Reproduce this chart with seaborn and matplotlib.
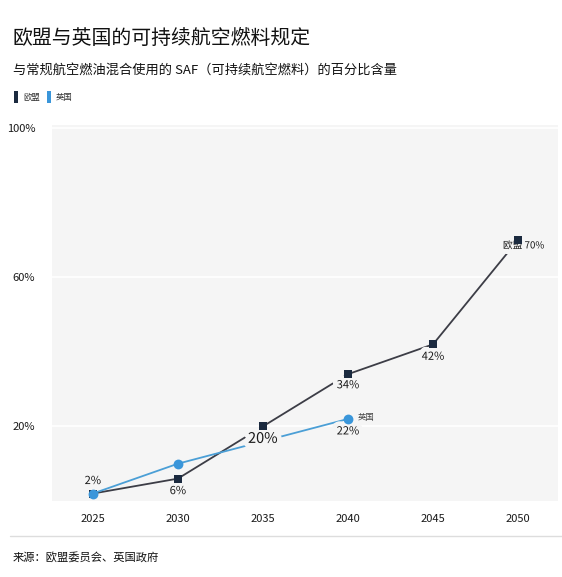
import matplotlib
matplotlib.use('Agg')
import matplotlib.pyplot as plt
import matplotlib.patheffects as pe
from matplotlib.patches import Patch
from matplotlib.lines import Line2D
import seaborn as sns
import pandas as pd

####### Data #######
eu_years = [2025, 2030, 2035, 2040, 2045, 2050]
eu_values = [2, 6, 20, 34, 42, 70]
uk_years = [2025, 2030, 2040]
uk_values = [2, 10, 22]

eu_labels = ['2%', '6%', '20%', '34%', '42%', '欧盟 70%']
uk_labels = {2040: '22%'}

title = '欧盟与英国的可持续航空燃料规定'
subtitle = '与常规航空燃油混合使用的 SAF（可持续航空燃料）的百分比含量'
source = '来源：欧盟委员会、英国政府'

x_ticks = [2025, 2030, 2035, 2040, 2045, 2050]
y_ticks = [20, 60, 100]

df = pd.concat([
    pd.DataFrame({'year': eu_years, 'value': eu_values, 'series': '欧盟'}),
    pd.DataFrame({'year': uk_years, 'value': uk_values, 'series': '英国'}),
], ignore_index=True)

####### Style #######
sns.set_theme(style='white')
plt.rcParams['font.family'] = ['Noto Sans CJK SC', 'DejaVu Sans']

BG = '#f5f5f5'
EU_MARK = '#1b2a3f'
EU_LINE = '#3c3d46'
UK_MARK = '#3a96da'
UK_LINE = '#4b9fd6'
TXT = '#1a1a1a'

fig = plt.figure(figsize=(5.62, 5.77), dpi=100)
ax = fig.add_axes([0.0925, 0.1317, 0.9005, 0.6517])
ax.set_facecolor(BG)

# lines
sns.lineplot(data=df, x='year', y='value', hue='series',
             palette={'欧盟': EU_LINE, '英国': UK_LINE},
             linewidth=1.3, legend=False, ax=ax, zorder=2)

# labels with halo (breaks the lines like the original)
halo = [pe.withStroke(linewidth=7, foreground=BG)]
offsets = [(0, 9), (0, -9), (0, -9), (0, -8), (0, -9), (4, -4)]
for i, (x, y, lab) in enumerate(zip(eu_years, eu_values, eu_labels)):
    fs = 10.5 if lab == '20%' else 8
    if lab.startswith('欧盟'):
        fs = 7
    ax.annotate(lab, (x, y), xytext=offsets[i], textcoords='offset points',
                ha='center', va='center', fontsize=fs, color=TXT,
                fontweight='medium', path_effects=halo, zorder=3)
for x, lab in uk_labels.items():
    y = uk_values[uk_years.index(x)]
    ax.annotate(lab, (x, y), xytext=(0, -9), textcoords='offset points',
                ha='center', va='center', fontsize=8, color=TXT,
                fontweight='medium', path_effects=halo, zorder=3)
ax.annotate('英国', (uk_years[-1], uk_values[-1]), xytext=(7, 1),
            textcoords='offset points', ha='left', va='center',
            fontsize=6, color='#444444', zorder=3)

# markers
sns.scatterplot(data=df[df.series == '欧盟'], x='year', y='value', marker='s',
                color=EU_MARK, s=28, linewidth=0, legend=False, ax=ax, zorder=4)
sns.scatterplot(data=df[df.series == '英国'], x='year', y='value', marker='o',
                color=UK_MARK, s=50, linewidth=0, legend=False, ax=ax, zorder=5)

####### Axes #######
ax.set_xlim(2022.6, 2052.35)
ax.set_ylim(0, 100.8)
ax.set_xticks(x_ticks)
ax.set_xticklabels([str(t) for t in x_ticks], fontsize=8, color=TXT,
                   fontweight='medium')
ax.set_yticks(y_ticks)
ax.set_yticklabels([f'{t}%' for t in y_ticks], fontsize=8, color=TXT,
                   fontweight='medium')
ax.tick_params(axis='both', length=0)
ax.tick_params(axis='x', pad=9)
ax.tick_params(axis='y', pad=12)
ax.grid(axis='y', color='white', linewidth=1.2)
ax.set_axisbelow(True)
ax.set_xlabel('')
ax.set_ylabel('')
for s in ax.spines.values():
    s.set_visible(False)

####### Texts #######
fig.text(0.023, 0.934, title, fontsize=14.3, color='#111111', va='center',
         fontweight='medium')
fig.text(0.023, 0.879, subtitle, fontsize=9.5, color='#111111', va='center',
         fontweight='medium')

handles = [Patch(facecolor=EU_MARK, edgecolor='none'),
           Patch(facecolor=UK_MARK, edgecolor='none')]
fig.legend(handles, ['欧盟', '英国'], loc='center left',
           bbox_to_anchor=(0.012, 0.832), ncol=2, frameon=False,
           fontsize=6, handlelength=0.45, handleheight=1.9,
           handletextpad=0.6, columnspacing=0.9, labelcolor='#333333')

fig.add_artist(Line2D([0.018, 1.0], [0.071, 0.071], color='#dddddd',
                      linewidth=1, transform=fig.transFigure))
fig.text(0.023, 0.035, source, fontsize=8.1, color='#111111', va='center')

fig.savefig('out.png', dpi=100)
